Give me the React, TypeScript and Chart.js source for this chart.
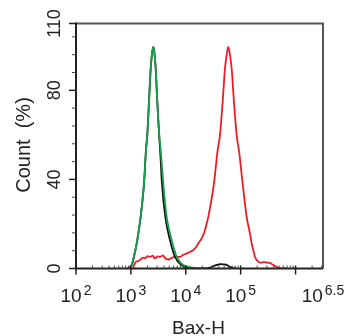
import React, { useEffect, useRef } from "react";
import { Chart, registerables } from "chart.js";

Chart.register(...registerables);

// x values are log10 of Bax-H intensity
const greenExp = [2.947, 3.015, 3.056, 3.117, 3.178, 3.239, 3.275, 3.299, 3.33, 3.361, 3.385, 3.408, 3.43, 3.452, 3.481, 3.517, 3.543, 3.59, 3.652, 3.7, 3.743, 3.79, 3.834, 3.9, 3.954, 4.04, 4.131, 4.259];
const greenCount = [0, 1.6, 5.3, 12.8, 23.2, 38.2, 53.2, 59.9, 74.8, 89.8, 96.5, 99.5, 96.5, 89.8, 74.8, 59.9, 53.2, 38.2, 23.2, 17, 12.8, 8.5, 5.3, 2.8, 1.6, 0.8, 0.4, 0.1];

const blackExp = [2.947, 3.015, 3.056, 3.117, 3.178, 3.239, 3.275, 3.299, 3.33, 3.361, 3.385, 3.408, 3.43, 3.452, 3.481, 3.515, 3.54, 3.566, 3.627, 3.712, 3.803, 3.913, 4.077, 4.35, 4.44, 4.53, 4.64, 4.73, 4.836, 4.91];
const blackCount = [0, 1.6, 5.3, 12.8, 23.2, 38.2, 53.2, 59.9, 74.8, 89.8, 96.5, 99.5, 96.5, 89.8, 74.8, 59.9, 50, 38.2, 23.2, 12.8, 5.3, 1.6, 0.3, 0, 0.4, 1.3, 2.0, 1.7, 0.4, 0];

const redExp = [3.038, 3.075, 3.13, 3.166, 3.22, 3.257, 3.31, 3.348, 3.4, 3.439, 3.49, 3.53, 3.585, 3.621, 3.676, 3.712, 3.767, 3.834, 3.894, 3.949, 4.04, 4.137, 4.186, 4.228, 4.277, 4.332, 4.368, 4.41, 4.514, 4.576, 4.623, 4.672, 4.714, 4.746, 4.774, 4.805, 4.836, 4.878, 4.927, 4.973, 5.036, 5.109, 5.169, 5.2, 5.23, 5.26, 5.321, 5.37, 5.424, 5.48, 5.534, 5.59, 5.625, 5.716, 5.81];
const redCount = [0, 2.5, 3.3, 3.8, 4.9, 4.6, 5.6, 5.2, 5.8, 4.5, 5.4, 5.2, 5.9, 4.7, 4.0, 4.3, 5.0, 5.3, 5.2, 6.1, 7.0, 8.3, 9.5, 11.3, 13, 15.8, 19, 23.2, 38.2, 52.3, 59.9, 74.8, 89.8, 96, 99.5, 96, 89.8, 74.8, 59.9, 52.3, 38.2, 23.2, 15.8, 11.3, 8.3, 5.3, 3.0, 2.6, 2.9, 2.7, 2.5, 1.6, 1.1, 0.2, 0];

const xMajorTicks = [2, 3, 4, 5, 6];
const xTickLabels = [
  { base: "10", exp: "2", at: 2 },
  { base: "10", exp: "3", at: 3 },
  { base: "10", exp: "4", at: 4 },
  { base: "10", exp: "5", at: 5 },
  { base: "10", exp: "6.5", at: 6.5 },
];
const yMajorTicks = [0, 40, 80, 110];
const yMinorTicks = [8, 16, 24, 32, 48, 56, 64, 72, 88, 96, 104];
const xTitle = "Bax-H";
const yTitle = "Count  (%)";

const FONT = '"Liberation Sans", Arial, sans-serif';

const axesPlugin = {
  id: "customAxes",
  afterDraw(chart: any) {
    const ctx = chart.ctx;
    const xs = chart.scales.x;
    const ys = chart.scales.y;
    const { left, right, top, bottom } = chart.chartArea;
    ctx.save();
    // frame
    ctx.strokeStyle = "#555";
    ctx.lineWidth = 2;
    ctx.beginPath();
    ctx.moveTo(left, top);
    ctx.lineTo(right, top);
    ctx.lineTo(right, bottom);
    ctx.stroke();
    ctx.strokeStyle = "#222";
    ctx.beginPath();
    ctx.moveTo(left, top - 1);
    ctx.lineTo(left, bottom);
    ctx.lineTo(right, bottom);
    ctx.stroke();

    // x ticks
    ctx.lineWidth = 1.5;
    for (const t of xMajorTicks) {
      const px = xs.getPixelForValue(t);
      ctx.beginPath();
      ctx.moveTo(px, bottom - 3);
      ctx.lineTo(px, bottom + 6);
      ctx.stroke();
    }
    ctx.lineWidth = 1;
    ctx.strokeStyle = "#444";
    for (let d = 2; d <= 6; d++) {
      for (let m = 2; m <= 9; m++) {
        const v = d + Math.log10(m);
        if (v >= 6.5) continue;
        const px = xs.getPixelForValue(v);
        ctx.beginPath();
        ctx.moveTo(px, bottom);
        ctx.lineTo(px, bottom - 3);
        ctx.stroke();
      }
    }
    // y ticks
    ctx.strokeStyle = "#222";
    ctx.lineWidth = 1.5;
    for (const t of yMajorTicks) {
      const py = ys.getPixelForValue(t);
      ctx.beginPath();
      ctx.moveTo(left - 7, py);
      ctx.lineTo(left, py);
      ctx.stroke();
    }
    ctx.lineWidth = 1;
    ctx.strokeStyle = "#444";
    for (const t of yMinorTicks) {
      const py = ys.getPixelForValue(t);
      ctx.beginPath();
      ctx.moveTo(left - 4, py);
      ctx.lineTo(left, py);
      ctx.stroke();
    }

    // x labels
    ctx.fillStyle = "#222";
    ctx.textBaseline = "alphabetic";
    ctx.textAlign = "left";
    for (const lab of xTickLabels) {
      const cx = xs.getPixelForValue(lab.at);
      ctx.font = `19px ${FONT}`;
      const wb = ctx.measureText(lab.base).width;
      ctx.font = `14px ${FONT}`;
      const we = ctx.measureText(lab.exp).width;
      const start = cx - (wb + 2 + we) / 2;
      ctx.font = `19px ${FONT}`;
      ctx.fillText(lab.base, start, bottom + 33);
      ctx.font = `14px ${FONT}`;
      ctx.fillText(lab.exp, start + wb + 2, bottom + 26);
    }
    // y labels
    ctx.font = `18px ${FONT}`;
    ctx.textAlign = "center";
    for (const t of yMajorTicks) {
      const py = ys.getPixelForValue(t);
      ctx.save();
      ctx.translate(left - 16, py);
      ctx.rotate(-Math.PI / 2);
      ctx.fillText(String(t), 0, 0);
      ctx.restore();
    }
    // titles
    ctx.font = `19px ${FONT}`;
    ctx.fillText(xTitle, (left + right) / 2 - 1, 334);
    ctx.save();
    ctx.font = `20px ${FONT}`;
    ctx.translate(30, 145);
    ctx.rotate(-Math.PI / 2);
    ctx.fillText(yTitle, 0, 0);
    ctx.restore();
    ctx.restore();
  },
};

function toPoints(xs: number[], ys: number[]) {
  return xs.map((x, i) => ({ x, y: ys[i] }));
}

export default function App() {
  const ref = useRef<HTMLCanvasElement | null>(null);
  useEffect(() => {
    if (!ref.current) return;
    const common = {
      showLine: true,
      pointRadius: 0,
      borderWidth: 1.8,
      fill: false,
      cubicInterpolationMode: "monotone" as const,
      borderJoinStyle: "round" as const,
    };
    const chart = new Chart(ref.current, {
      type: "scatter",
      data: {
        datasets: [
          { ...common, label: "Isotype", data: toPoints(greenExp, greenCount), borderColor: "#17a04c" },
          { ...common, label: "Blank", data: toPoints(blackExp, blackCount), borderColor: "#111111" },
          { ...common, label: "Bax", data: toPoints(redExp, redCount), borderColor: "#ec1c24" },
        ],
      },
      options: {
        animation: false,
        responsive: true,
        maintainAspectRatio: false,
        layout: { padding: { left: 76, right: 22, top: 23.5, bottom: 67.5 } },
        plugins: { legend: { display: false }, tooltip: { enabled: false } },
        scales: {
          x: { type: "linear", min: 2, max: 6.5, display: false },
          y: { type: "linear", min: 0, max: 110, display: false },
        },
      },
      plugins: [axesPlugin],
    });
    return () => chart.destroy();
  }, []);
  return (
    <div style={{ position: "absolute", left: 0, top: 0, width: 345, height: 336, background: "#fff" }}>
      <canvas ref={ref} />
    </div>
  );
}
